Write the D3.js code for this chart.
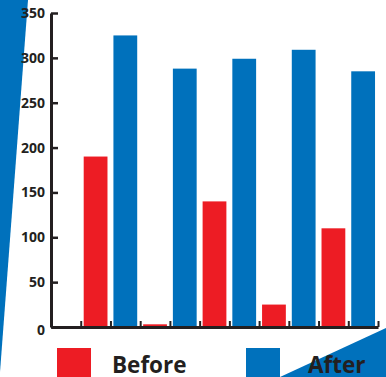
<!DOCTYPE html>
<html>
<head>
<meta charset="utf-8">
<script src="https://cdn.jsdelivr.net/npm/d3@7"></script>
<style>
  html, body { margin: 0; padding: 0; background: #fff; }
  svg { display: block; }
  text { font-family: "Open Sans", "DejaVu Sans", sans-serif; font-weight: 700; fill: #231f20; }
</style>
</head>
<body>
<script>
// ---- data ----
const groups = ["1", "2", "3", "4", "5"];
const beforeValues = [190, 3, 140, 25, 110];
const afterValues = [325, 288, 299, 309, 285];
const yTicks = [0, 50, 100, 150, 200, 250, 300, 350];
const seriesNames = ["Before", "After"];
const seriesColors = ["#ed1c24", "#0071bc"];

const W = 386, H = 377;
const svg = d3.select("body").append("svg").attr("width", W).attr("height", H);

// decorative triangles
svg.append("path").attr("d", d3.line()([[0, 0], [28, 0], [0, 372]]) + "Z").attr("fill", "#0071bc");
svg.append("path").attr("d", d3.line()([[280, 377], [386, 328], [386, 377]]) + "Z").attr("fill", "#0071bc");

// slots: one empty leading slot, then Before/After per group
const slots = ["_pad"];
const bars = [];
groups.forEach((g, i) => {
  slots.push(g + "-Before"); bars.push({ key: g + "-Before", value: beforeValues[i], s: 0 });
  slots.push(g + "-After"); bars.push({ key: g + "-After", value: afterValues[i], s: 1 });
});

const x0 = 51, x1 = 378;
const x = d3.scaleBand().domain(slots).range([x0, x1]).paddingInner(0.2).paddingOuter(0.1);
const y = d3.scaleLinear().domain([0, 350]).range([327, 13]);

// bars
svg.append("g").selectAll("rect").data(bars).join("rect")
  .attr("x", d => x(d.key))
  .attr("width", x.bandwidth())
  .attr("y", d => y(d.value))
  .attr("height", d => y(0) - y(d.value))
  .attr("fill", d => seriesColors[d.s]);

// y axis
const yAxis = svg.append("g").attr("transform", `translate(${x0},0)`)
  .call(d3.axisLeft(y).tickValues(yTicks).tickSizeInner(-7).tickSizeOuter(0).tickPadding(6));
yAxis.select(".domain").attr("stroke", "#231f20").attr("stroke-width", 3);
yAxis.selectAll(".tick line").attr("stroke", "#231f20").attr("stroke-width", 2.5);
yAxis.selectAll(".tick text").attr("font-size", 14).attr("font-family", null).attr("fill", "#231f20");
yAxis.selectAll(".tick").filter(d => d === 0).select("text").attr("dy", "0.55em");

// x axis: boundary ticks between slots
const xb = d3.scaleLinear().domain([0, slots.length]).range([x0, x1]);
const xAxis = svg.append("g").attr("transform", `translate(0,${y(0)})`)
  .call(d3.axisBottom(xb).tickValues(d3.range(1, slots.length + 1)).tickSizeInner(-6).tickSizeOuter(0).tickFormat(""));
xAxis.select(".domain").attr("stroke", "#231f20").attr("stroke-width", 3);
xAxis.selectAll(".tick line").attr("stroke", "#231f20").attr("stroke-width", 2);

// legend
const legendX = [57, 246];
const legend = svg.append("g").selectAll("g").data(seriesNames).join("g")
  .attr("transform", (d, i) => `translate(${legendX[i]},348)`);
legend.append("rect").attr("width", 34).attr("height", 30).attr("fill", (d, i) => seriesColors[i]);
legend.append("text").attr("x", (d, i) => i === 0 ? 55 : 62).attr("y", 25)
  .attr("font-size", 22.5).text(d => d);
</script>
</body>
</html>
